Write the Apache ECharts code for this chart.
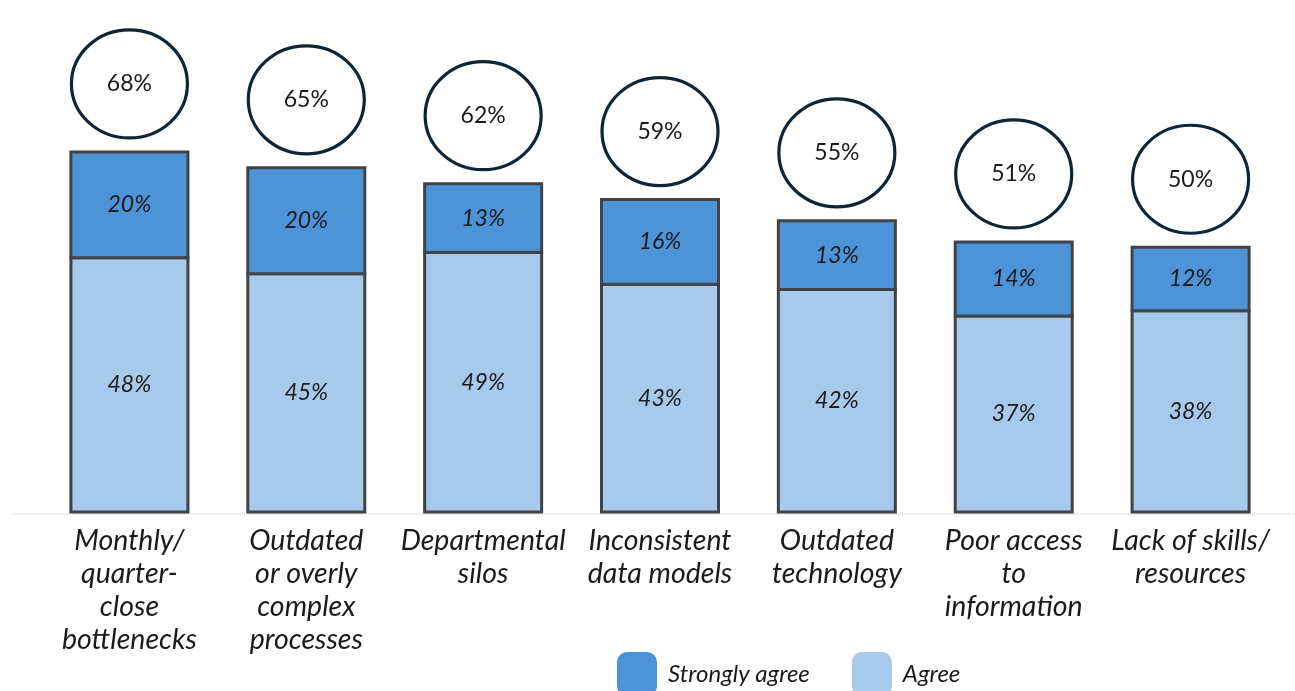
<!DOCTYPE html>
<html>
<head>
<meta charset="utf-8">
<script src="https://cdn.jsdelivr.net/npm/echarts@6/dist/echarts.min.js"></script>
<style>
  html, body { margin: 0; padding: 0; background: #ffffff; }
  #chart { width: 1295px; height: 691px; }
</style>
</head>
<body>
<div id="chart"></div>
<script>
// Survey results: share of respondents agreeing with each obstacle
var categories = [
  'Monthly/\nquarter-\nclose\nbottlenecks',
  'Outdated\nor overly\ncomplex\nprocesses',
  'Departmental\nsilos',
  'Inconsistent\ndata models',
  'Outdated\ntechnology',
  'Poor access\nto\ninformation',
  'Lack of skills/\nresources'
];
var agree = [48, 45, 49, 43, 42, 37, 38];
var stronglyAgree = [20, 20, 13, 16, 13, 14, 12];
var totals = [68, 65, 62, 59, 55, 51, 50];

var FONT = 'Lato, "Noto Sans", sans-serif';
var TEXT = '#1a1a1a';
var BAR_W = 117;

var chart = echarts.init(document.getElementById('chart'));

// One stacked segment: [categoryIndex, lowerValue, upperValue, segmentValue]
function segmentRenderer(params, api) {
  var bottom = api.coord([api.value(0), api.value(1)]);
  var top = api.coord([api.value(0), api.value(2)]);
  var x = bottom[0] - BAR_W / 2;
  return {
    type: 'group',
    children: [
      {
        type: 'rect',
        shape: { x: x, y: top[1], width: BAR_W, height: bottom[1] - top[1] },
        style: { fill: api.visual('color'), stroke: '#404347', lineWidth: 3 }
      },
      {
        type: 'text',
        z2: 10,
        style: {
          x: bottom[0],
          y: (top[1] + bottom[1]) / 2,
          text: api.value(3) + '%',
          align: 'center',
          verticalAlign: 'middle',
          fontFamily: FONT,
          fontSize: 23,
          fontStyle: 'italic',
          fill: TEXT
        }
      }
    ]
  };
}

var agreeData = agree.map(function (v, i) { return [i, 0, v, v]; });
var strongData = stronglyAgree.map(function (v, i) { return [i, agree[i], agree[i] + v, v]; });

var option = {
  animation: false,
  grid: { left: 41, right: 16, top: 99, bottom: 179 },
  legend: {
    top: 647,
    left: 612,
    itemWidth: 40,
    itemHeight: 44,
    itemGap: 42,
    icon: 'roundRect',
    itemStyle: { borderWidth: 0 },
    textStyle: { fontFamily: FONT, fontSize: 24, fontStyle: 'italic', color: TEXT, padding: [0, 0, 0, 6] },
    data: ['Strongly agree', 'Agree']
  },
  xAxis: {
    type: 'category',
    data: categories,
    axisLine: { show: false },
    axisTick: { show: false },
    axisLabel: {
      interval: 0,
      margin: 12,
      fontFamily: FONT,
      fontSize: 28.5,
      fontStyle: 'italic',
      color: TEXT,
      lineHeight: 33
    }
  },
  yAxis: {
    type: 'value',
    min: 0,
    max: 78,
    show: false,
    splitLine: { show: false }
  },
  series: [
    {
      name: 'Agree',
      type: 'custom',
      data: agreeData,
      encode: { x: 0, y: [1, 2] },
      itemStyle: { color: '#a7c9eb' },
      renderItem: segmentRenderer
    },
    {
      name: 'Strongly agree',
      type: 'custom',
      data: strongData,
      encode: { x: 0, y: [1, 2] },
      itemStyle: { color: '#4d93d8' },
      renderItem: segmentRenderer
    },
    {
      name: 'Total',
      type: 'custom',
      data: totals.map(function (v, i) { return [i, v]; }),
      encode: { x: 0, y: 1 },
      z: 5,
      renderItem: function (params, api) {
        var p = api.coord([api.value(0), api.value(1)]);
        var cy = p[1] - 68;
        return {
          type: 'group',
          children: [
            {
              type: 'ellipse',
              shape: { cx: p[0], cy: cy, rx: 58, ry: 54 },
              style: { fill: '#ffffff', stroke: '#0d2535', lineWidth: 3.2 }
            },
            {
              type: 'text',
              z2: 10,
              style: {
                x: p[0],
                y: cy,
                text: api.value(1) + '%',
                align: 'center',
                verticalAlign: 'middle',
                fontFamily: FONT,
                fontSize: 23,
                fill: TEXT
              }
            }
          ]
        };
      }
    }
  ]
};

chart.setOption(option);

// Dotted baseline running across the full width under the bars
var baseY = chart.convertToPixel({ yAxisIndex: 0 }, 0) + 2;
chart.setOption({
  graphic: [{
    type: 'line',
    shape: { x1: 12, y1: baseY, x2: 1295, y2: baseY },
    style: { stroke: '#c8c8c8', lineWidth: 1, lineDash: [1, 1] },
    z: -1
  }]
});
</script>
</body>
</html>
